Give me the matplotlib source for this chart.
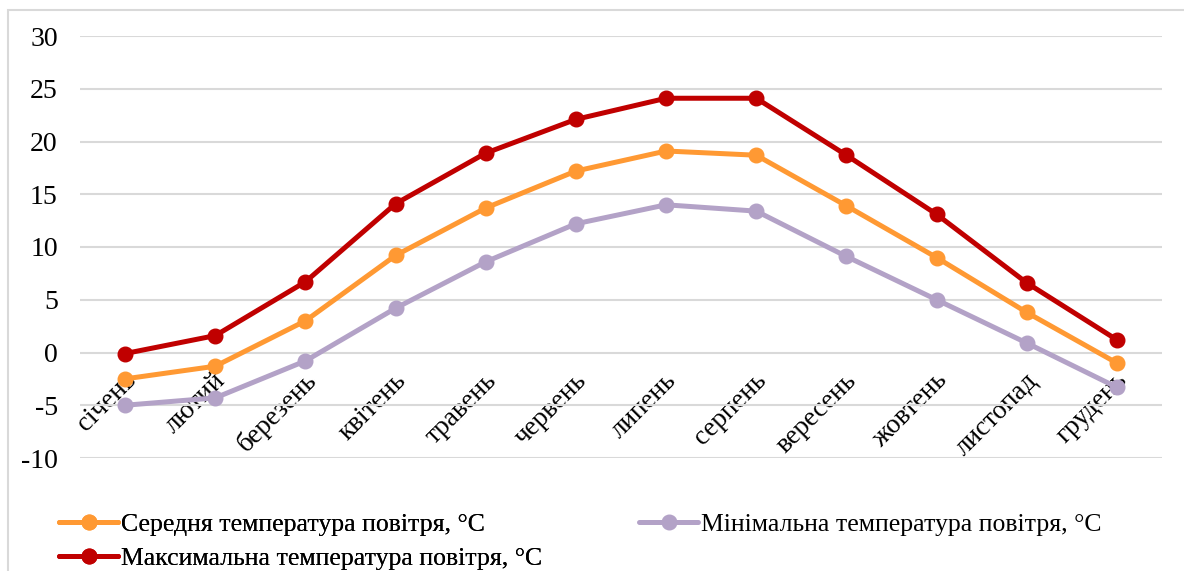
import matplotlib
matplotlib.use("Agg")
import matplotlib.pyplot as plt
from matplotlib.patches import Rectangle
from matplotlib.transforms import ScaledTranslation

months = ["січень", "лютий", "березень", "квітень", "травень", "червень",
          "липень", "серпень", "вересень", "жовтень", "листопад", "грудень"]
t_mean = [-2.5, -1.3, 3.0, 9.2, 13.7, 17.2, 19.1, 18.7, 13.9, 9.0, 3.8, -1.0]
t_min = [-5.0, -4.3, -0.8, 4.2, 8.6, 12.2, 14.0, 13.4, 9.1, 5.0, 0.9, -3.3]
t_max = [-0.1, 1.6, 6.7, 14.1, 18.9, 22.1, 24.1, 24.1, 18.7, 13.1, 6.6, 1.2]
yticks = [-10, -5, 0, 5, 10, 15, 20, 25, 30]

labels = ["Середня температура повітря, °С",
          "Мінімальна температура повітря, °С",
          "Максимальна температура повітря, °С"]
colors = ["#FF9933", "#B3A2C7", "#C00000"]

plt.rcParams['font.family'] = ['Liberation Serif', 'DejaVu Serif']

fig = plt.figure(figsize=(11.84, 5.71), dpi=100)
W, H = 1184, 571
ax = fig.add_axes([80 / W, 1 - 458 / H, 1082 / W, (458 - 36) / H])

x = list(range(len(months)))
lines = []
for data, c, lab in zip([t_mean, t_min, t_max], colors, labels):
    ln, = ax.plot(x, data, color=c, lw=3.6, marker='o', ms=10.5, label=lab,
                  solid_capstyle='round')
    lines.append(ln)

ax.set_xlim(-0.5, len(months) - 0.5)
ax.set_ylim(-10, 30)
ax.set_yticks(yticks)
ax.set_yticklabels([str(v) for v in yticks], fontsize=20)
ax.grid(axis='y', color='#d9d9d9', lw=1.5)
ax.set_axisbelow(True)
for s in ax.spines.values():
    s.set_visible(False)
ax.tick_params(axis='y', length=0, pad=16)
ax.tick_params(axis='x', length=0, pad=11)
ax.spines['bottom'].set_position(('data', 0))
ax.set_xticks(x)
ax.set_xticklabels(months, fontsize=19.5, rotation=45, ha='right',
                   rotation_mode='anchor')
off = ScaledTranslation(-2 / 100, 0, fig.dpi_scale_trans)
for lbl in ax.get_xticklabels():
    lbl.set_transform(lbl.get_transform() + off)

# outer border
fig.patches.append(Rectangle((8 / W, -0.1), 1.2, 1 - 10 / H + 0.1,
                             transform=fig.transFigure, fill=False,
                             edgecolor='#d9d9d9', lw=1.5))

leg_kw = dict(loc='upper left', frameon=False, fontsize=18.5, handlelength=2.3,
              handletextpad=0.1, labelspacing=0.42, borderaxespad=0)
leg1 = fig.legend(handles=[lines[0], lines[2]], labels=[labels[0], labels[2]],
                  bbox_to_anchor=(49 / W, 1 - 503 / H), **leg_kw)
fig.legend(handles=[lines[1]], labels=[labels[1]],
           bbox_to_anchor=(629 / W, 1 - 503 / H), **leg_kw)
fig.add_artist(leg1)

fig.savefig("out.png", dpi=100)
